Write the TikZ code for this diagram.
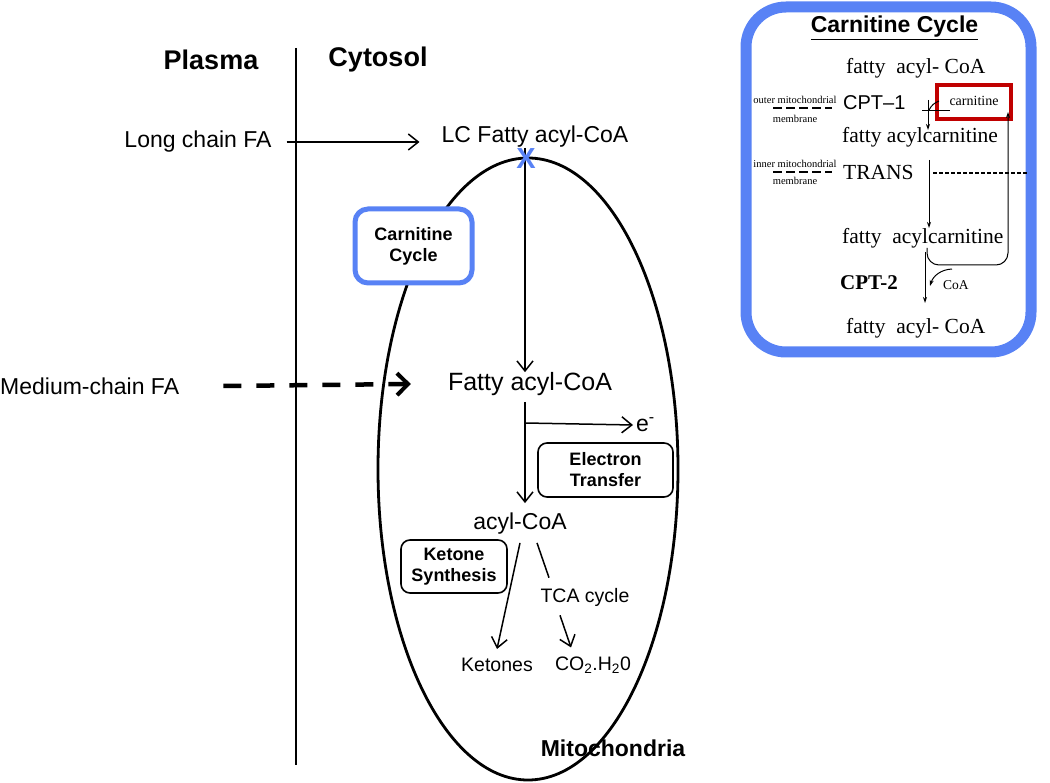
\documentclass[tikz,border=0pt]{standalone}
\usepackage{fontspec}
\setmainfont{Liberation Sans}
\newfontfamily\scanfont{Liberation Serif}
\usetikzlibrary{arrows.meta}

\definecolor{cycblue}{RGB}{88,130,245}
\definecolor{boxred}{RGB}{192,0,0}

\begin{document}
\begin{tikzpicture}[x=1pt,y=-1pt,
  every node/.style={inner sep=0pt},
  txt/.style={font=\fontsize{23}{26}\selectfont},
  head/.style={font=\fontsize{27}{30}\selectfont\bfseries},
  sub/.style={font=\fontsize{19.5}{22}\selectfont},
  tag/.style={draw,fill=white,line width=1.6pt,rounded corners=9pt,align=center,
    font=\fontsize{18}{21}\selectfont\bfseries},
  arr/.style={-{Straight Barb[length=10pt,width=16pt,line width=1.5pt]},line width=1.5pt},
  dasharr/.style={-{Straight Barb[length=11pt,width=22pt,line width=4pt]},line width=4.5pt,
    dash pattern=on 18pt off 15pt},
  scan/.style={font=\scanfont\fontsize{21.5}{24}\selectfont,anchor=west},
  tiny/.style={font=\scanfont\fontsize{10.5}{12}\selectfont},
  tarr/.style={-{Stealth[length=6pt,width=4pt]},line width=1pt},
]
\useasboundingbox (0,0) rectangle (1050,783);

\node[head] (plasma) at (211,60) {Plasma};
\node[head] (cytosol) at (378,60) {Cytosol};
\coordinate (divtop) at (296,48);
\coordinate (divbot) at (296,765);
\draw[line width=1.8pt] (divtop) -- (divbot);

\draw[line width=2.8pt] (528,469) ellipse [x radius=150pt, y radius=311pt];
\node[font=\fontsize{23}{26}\selectfont\bfseries] (mito) at (613,748) {Mitochondria};

\node[txt] (lcfa) at (198,142) {Long chain FA};
\node[txt] (lcacyl) at (535,137) {LC Fatty acyl-CoA};
\draw[arr] ([xshift=15pt]lcfa.east) -- ([xshift=-22pt]lcfa.east -| lcacyl.west);

\node[txt,anchor=west] (mcfa) at (0,386) {Medium-chain FA};
\node[font=\fontsize{25}{28}\selectfont] (fa) at (530,384) {Fatty acyl-CoA};
\draw[dasharr] ([xshift=44pt]mcfa.east) -- ([xshift=-37pt]fa.west);

\coordinate (mainax) at (525,0);
\draw[arr] (mainax |- lcacyl.south) -- (mainax |- fa.north);
\node[text=cycblue,font=\fontsize{29}{30}\selectfont\bfseries] (block) at (526,159) {X};

\node[tag,line width=5pt,draw=cycblue,rounded corners=13pt,minimum width=117pt,minimum height=74pt]
  (cyc) at (413.5,246) {Carnitine\\Cycle};

\node[txt] (acyl) at (520,524) {acyl-CoA};
\draw[arr] ([yshift=-6pt]mainax |- fa.south) -- ([yshift=10pt]mainax |- acyl.north);
\coordinate (ebr) at (525,423);
\node[txt,anchor=west] (elec) at (636,425) {e\textsuperscript{-}};
\draw[arr] (ebr) -- ([xshift=-3pt]elec.west);
\node[tag,minimum width=135pt,minimum height=54pt] (etf) at (605.5,470) {Electron\\Transfer};

\node[tag,minimum width=106pt,minimum height=53pt] (keto) at (454,566.5) {Ketone\\Synthesis};
\node[sub] (tca) at (585,597) {TCA cycle};
\node[sub] (ket) at (497,665) {Ketones};
\node[sub] (co2) at (593,665) {CO\textsubscript{2}.H\textsubscript{2}0};
\draw[arr] ([yshift=-8pt]acyl.south) -- ([yshift=9pt]ket.north);
\draw[line width=1.5pt] ([xshift=17pt,yshift=-8pt]acyl.south) -- ([xshift=-36pt,yshift=10pt]tca.north);
\draw[arr] ([xshift=-25pt,yshift=-9pt]tca.south) -- ([xshift=-22pt,yshift=9pt]co2.north);

\node[draw=cycblue,line width=11pt,rounded corners=40pt,minimum width=285pt,minimum height=345pt]
  (inset) at (888.5,179.5) {};
\node[font=\fontsize{23}{26}\selectfont\bfseries] (title) at (894.5,28) {\underline{Carnitine Cycle}};

\node[scan] (fac1) at (846,68) {fatty\ \ acyl- CoA};
\node[scan,font=\fontsize{20}{24}\selectfont] (cpt1) at (843,103) {CPT–1};
\node[scan] (facar1) at (842,137) {fatty acylcarnitine};
\node[scan] (trans) at (843,172) {TRANS};
\node[scan] (facar2) at (842,238) {fatty\ \ acylcarnitine};
\node[scan,font=\scanfont\bfseries\fontsize{21}{24}\selectfont] (cpt2) at (840,283) {CPT-2};
\node[scan] (fac2) at (846,328) {fatty\ \ acyl- CoA};

\node[tiny] (outer) at (795,100) {outer mitochondrial};
\node[tiny] (outmem) at (795,119) {membrane};
\node[tiny] (inner) at (795,164) {inner mitochondrial};
\node[tiny] (inmem) at (795,181) {membrane};
\draw[line width=1.1pt,dash pattern=on 9pt off 4pt] (773,108) -- (832,108);
\draw[line width=1.1pt,dash pattern=on 9pt off 4pt] (773,172) -- (832,172);

\node[draw=boxred,line width=4pt,minimum width=74pt,minimum height=34pt,
  font=\scanfont\fontsize{14}{16}\selectfont] (carn) at (974,102) {\raisebox{3pt}{carnitine}};

\coordinate (c1top) at (928,100);
\coordinate (c1bot) at (928,130);
\coordinate (c1l) at (922,111);
\coordinate (c1r) at (950,111);
\draw[tarr] (c1top) -- (c1bot);
\draw[line width=1pt] (c1l) -- (c1r);
\draw[line width=1pt] (939,101) to[bend right=20] (929,110);

\coordinate (rtstart) at (927,248);
\coordinate (rtend) at (1008,112);
\draw[tarr,rounded corners=12pt] (rtstart) -- (927,265) -- (1008,265) -- (rtend);

\coordinate (trtop) at (929,160);
\coordinate (trbot) at (929,228);
\draw[tarr] (trtop) -- (trbot);
\coordinate (memr) at (1027,173);
\draw[line width=1.1pt,dash pattern=on 4pt off 2pt] (933,173) -- (memr);

\coordinate (c2top) at (925,252);
\coordinate (c2bot) at (925,303);
\draw[tarr] (c2top) -- (c2bot);
\node[tiny,font=\scanfont\fontsize{13.5}{15}\selectfont,anchor=west] (coa) at (943,285) {CoA};
\coordinate (coast) at (952,269);
\coordinate (coaend) at (930,286);
\draw[tarr] (coast) to[bend right=35] (coaend);
\end{tikzpicture}
\end{document}
